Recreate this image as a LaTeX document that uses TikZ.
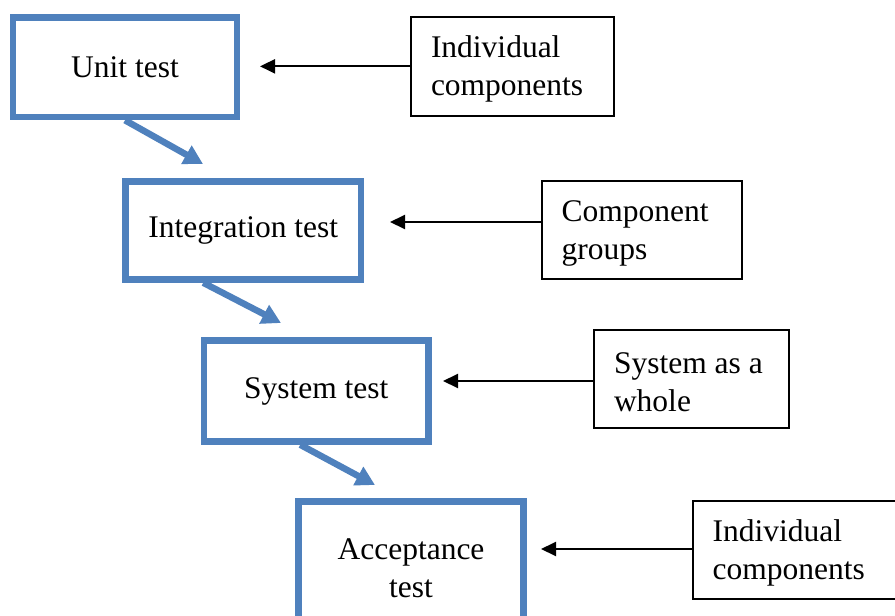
\documentclass[tikz,border=0pt]{standalone}
\usepackage{fontspec}
\setmainfont{Liberation Serif}
\usetikzlibrary{arrows.meta}
\definecolor{stepblue}{HTML}{4F81BD}
\begin{document}
\begin{tikzpicture}[x=1pt,y=-1pt,
  txt/.style={font=\fontsize{31.5}{38}\selectfont},
  stagebox/.style={txt,draw=stepblue,line width=6.5pt,rectangle,inner sep=0pt,align=center},
  notebox/.style={txt,draw=black,line width=2pt,rectangle,inner xsep=20pt,inner ysep=0pt,align=flush left,execute at begin node={\rule{0pt}{28pt}}},
  bluearrow/.style={draw=stepblue,line width=6.5pt,-{Triangle[width=20pt,length=19pt,fill=stepblue]}},
  blackarrow/.style={draw=black,line width=2pt,-{Triangle[width=14pt,length=15pt]}}]
\useasboundingbox (0,0) rectangle (895,616);
\fill[white] (0,0) rectangle (895,616);
% stage boxes
\node[stagebox,minimum width=224pt,minimum height=99.5pt] (unit) at (125,67.25) {Unit test};
\node[stagebox,minimum width=235.5pt,minimum height=98pt] (integ) at (243.25,230.5) {Integration test};
\node[stagebox,minimum width=224.5pt,minimum height=101pt] (sys) at (316.25,391) {System test};
\node[stagebox,minimum width=225pt,minimum height=133pt] (acc) at (411,568) {Acceptance\\test};
% note boxes
\node[notebox,text width=163pt,minimum height=98.7pt] (n1) at (512.5,66.35) {Individual\\components};
\node[notebox,text width=160.3pt,minimum height=98pt] (n2) at (641.85,230) {Component\\groups};
\node[notebox,text width=155pt,minimum height=98pt] (n3) at (691.5,379) {System as a\\whole};
\node[notebox,text width=190pt,minimum height=98pt] (n4) at (807.7,550) {Individual\\components};
% black arrow tips
\coordinate (t1) at (260,66.35);
\coordinate (t2) at (390,222);
\coordinate (t3) at (443,381);
\coordinate (t4) at (541,549);
\draw[blackarrow] (n1.west |- t1) -- (t1);
\draw[blackarrow] (n2.west |- t2) -- (t2);
\draw[blackarrow] (n3.west |- t3) -- (t3);
\draw[blackarrow] (n4.west |- t4) -- (t4);
% blue arrow tips
\coordinate (b1) at (203,164);
\coordinate (b2) at (281,323);
\coordinate (b3) at (375,485);
\draw[bluearrow] (unit.south) -- (b1);
\draw[bluearrow] ([xshift=-40pt]integ.south) -- (b2);
\draw[bluearrow] ([xshift=-16pt]sys.south) -- (b3);
\end{tikzpicture}
\end{document}
